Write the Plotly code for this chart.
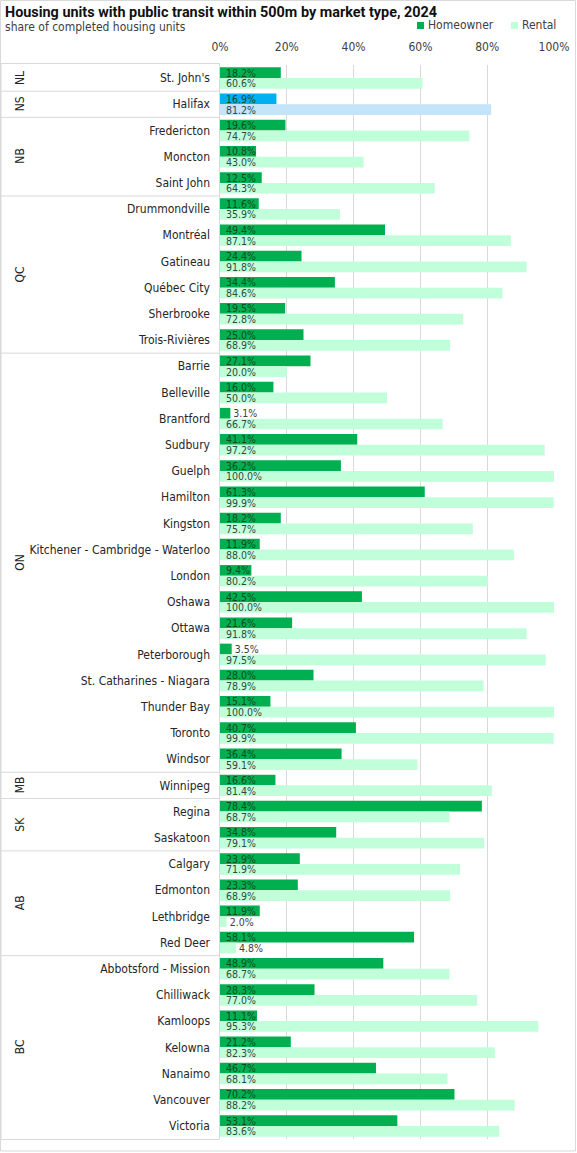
import plotly.graph_objects as go

# data
provinces = ["NL", "NS", "NB", "QC", "ON", "MB", "SK", "AB", "BC"]
province_counts = [1, 1, 3, 6, 16, 1, 2, 4, 7]

cities = [
    "St. John's",
    "Halifax",
    "Fredericton", "Moncton", "Saint John",
    "Drummondville", "Montréal", "Gatineau", "Québec City", "Sherbrooke", "Trois-Rivières",
    "Barrie", "Belleville", "Brantford", "Sudbury", "Guelph", "Hamilton", "Kingston",
    "Kitchener - Cambridge - Waterloo", "London", "Oshawa", "Ottawa", "Peterborough",
    "St. Catharines - Niagara", "Thunder Bay", "Toronto", "Windsor",
    "Winnipeg",
    "Regina", "Saskatoon",
    "Calgary", "Edmonton", "Lethbridge", "Red Deer",
    "Abbotsford - Mission", "Chilliwack", "Kamloops", "Kelowna", "Nanaimo", "Vancouver", "Victoria",
]

homeowner = [
    18.2,
    16.9,
    19.6, 10.8, 12.5,
    11.6, 49.4, 24.4, 34.4, 19.5, 25.0,
    27.1, 16.0, 3.1, 41.1, 36.2, 61.3, 18.2,
    11.9, 9.4, 42.5, 21.6, 3.5,
    28.0, 15.1, 40.7, 36.4,
    16.6,
    78.4, 34.8,
    23.9, 23.3, 11.9, 58.1,
    48.9, 28.3, 11.1, 21.2, 46.7, 70.2, 53.1,
]

rental = [
    60.6,
    81.2,
    74.7, 43.0, 64.3,
    35.9, 87.1, 91.8, 84.6, 72.8, 68.9,
    20.0, 50.0, 66.7, 97.2, 100.0, 99.9, 75.7,
    88.0, 80.2, 100.0, 91.8, 97.5,
    78.9, 100.0, 99.9, 59.1,
    81.4,
    68.7, 79.1,
    71.9, 68.9, 2.0, 4.8,
    68.7, 77.0, 95.3, 82.3, 68.1, 88.2, 83.6,
]

highlight = "Halifax"

W, H = 577, 1153
ML, MR, MT, MB = 220, 23, 65, 13.5
PW = W - ML - MR
PH = H - MT - MB

FONT = "Liberation Sans Narrow, DejaVu Sans Condensed, Roboto, sans-serif"
TITLE_FONT = "Roboto, sans-serif"
GREEN, MINT = "#00B050", "#C1FFDA"
BLUE, LBLUE = "#00B0F0", "#C3E4F9"
GRID = "#D9D9D9"


def px_x(p):
    return (p - ML) / PW


def px_y(p):
    return 1 - (p - MT) / PH


def label(v):
    # a small lead-in space when the label sits inside the bar
    return ("\u00a0" if v >= 5 else "") + f"{v:.1f}%"


def where(v):
    return "inside" if v >= 5 else "outside"


own_colors = [BLUE if c == highlight else GREEN for c in cities]
rent_colors = [LBLUE if c == highlight else MINT for c in cities]

fig = go.Figure()
fig.add_trace(go.Bar(
    y=cities, x=[v / 100 for v in homeowner], orientation="h", name="Homeowner",
    marker=dict(color=own_colors, line_width=0),
    text=[label(v) for v in homeowner], textposition=[where(v) for v in homeowner],
    insidetextanchor="start", constraintext="none", textangle=0, cliponaxis=False,
    insidetextfont=dict(color="#0E4A24", size=10.5, family=FONT),
    outsidetextfont=dict(color="#404040", size=10.5, family=FONT),
))
fig.add_trace(go.Bar(
    y=cities, x=[v / 100 for v in rental], orientation="h", name="Rental",
    marker=dict(color=rent_colors, line_width=0),
    text=[label(v) for v in rental], textposition=[where(v) for v in rental],
    insidetextanchor="start", constraintext="none", textangle=0, cliponaxis=False,
    insidetextfont=dict(color="#2E4A3A", size=10.5, family=FONT),
    outsidetextfont=dict(color="#404040", size=10.5, family=FONT),
))

shapes = []
annotations = []

# label box and province separators
x_left, x_right = px_x(1), px_x(219.5)
shapes.append(dict(type="rect", xref="paper", yref="paper", x0=x_left, x1=x_right,
                   y0=px_y(1140), y1=px_y(63.5), line=dict(color=GRID, width=1)))
start = 0
for prov, n in zip(provinces, province_counts):
    end = start + n
    if end < len(cities):
        shapes.append(dict(type="line", xref="paper", yref="y", x0=x_left, x1=x_right,
                           y0=end - 0.5, y1=end - 0.5, line=dict(color=GRID, width=1)))
    annotations.append(dict(text=prov, xref="paper", yref="y", x=px_x(11),
                            y=(start + end - 1) / 2, textangle=-90, showarrow=False,
                            font=dict(size=12, color="#262626", family=FONT)))
    start = end

# outer chart border
shapes.append(dict(type="rect", xref="paper", yref="paper", x0=px_x(0.5), x1=px_x(W - 1.5),
                   y0=px_y(H - 1.5), y1=px_y(0.5), line=dict(color=GRID, width=1)))

# title and subtitle
annotations.append(dict(text="<b>Housing units with public transit within 500m by market type, 2024</b>",
                        xref="paper", yref="paper", x=px_x(3), y=px_y(12), xanchor="left",
                        yanchor="middle", showarrow=False,
                        font=dict(size=14.4, color="#111111", family=TITLE_FONT)))
annotations.append(dict(text="share of completed housing units", xref="paper", yref="paper",
                        x=px_x(3), y=px_y(27), xanchor="left", yanchor="middle", showarrow=False,
                        font=dict(size=12, color="#404040", family=FONT)))

# legend drawn by hand so it sits where the original one does
for name, color, x0 in [("Homeowner", GREEN, 417), ("Rental", MINT, 511)]:
    shapes.append(dict(type="rect", xref="paper", yref="paper", x0=px_x(x0), x1=px_x(x0 + 7),
                       y0=px_y(29), y1=px_y(22), fillcolor=color, line_width=0))
    annotations.append(dict(text=name, xref="paper", yref="paper", x=px_x(x0 + 9), y=px_y(25),
                            xanchor="left", yanchor="middle", showarrow=False,
                            font=dict(size=12, color="#404040", family=FONT)))

fig.update_layout(
    width=W, height=H,
    margin=dict(l=ML, r=MR, t=MT, b=MB, autoexpand=False),
    paper_bgcolor="white", plot_bgcolor="white",
    barmode="group", bargap=0.18, bargroupgap=0,
    showlegend=False,
    xaxis=dict(range=[0, 1], side="top", tickformat=".0%", dtick=0.2, showgrid=True,
               gridcolor=GRID, zeroline=False, showline=False, ticklabelstandoff=11,
               automargin=False,
               tickfont=dict(size=12, color="#404040", family=FONT), fixedrange=True),
    yaxis=dict(autorange="reversed", showgrid=False, showline=False, ticks="",
               automargin=False,
               ticklabelstandoff=9, tickfont=dict(size=12, color="#262626", family=FONT)),
    shapes=shapes, annotations=annotations,
)

fig.write_html("out.html", config={"displayModeBar": False},
               post_script="document.body.style.margin='0';")
